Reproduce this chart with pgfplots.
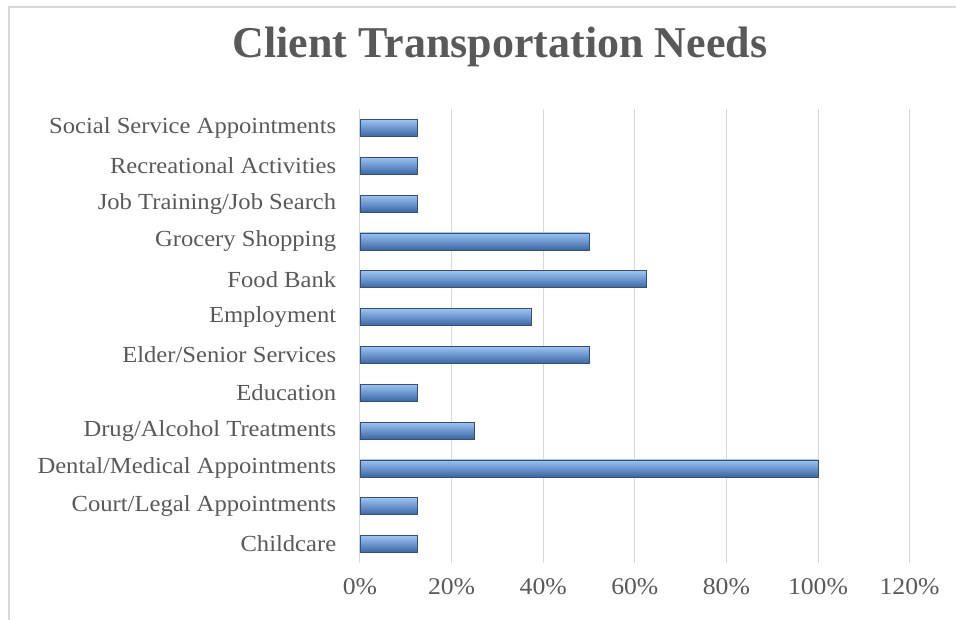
\documentclass[border=0pt]{standalone}
\usepackage{fontspec}
\setmainfont{Liberation Serif}[FakeStretch=1.07]
\newfontfamily\titlefont{Liberation Serif}
\usepackage{pgfplots}
\pgfplotsset{compat=1.18}
\definecolor{txt}{HTML}{595959}
\definecolor{gridc}{HTML}{D9D9D9}
\definecolor{bartop}{HTML}{9CC4F2}
\definecolor{barmid}{HTML}{5A90DA}
\definecolor{barbot}{HTML}{3A66A6}
\definecolor{baredge}{HTML}{34507A}
\begin{document}
\begin{tikzpicture}[x=1pt,y=1pt]
\useasboundingbox (0,0) rectangle (956,620);
\draw[gridc, line width=1.5pt] (9,0) -- (9,613) -- (956,613);
\node[font=\titlefont\fontsize{44}{52}\selectfont\bfseries, text=txt] at (500,573) {Client Transportation Needs};
\begin{axis}[
  at={(360pt,57pt)}, anchor=south west,
  scale only axis, width=549.6pt, height=454pt,
  xbar, bar width=17pt,
  xmin=0, xmax=120, ymin=-0.5, ymax=11.5,
  xtick={0,20,...,120},
  xticklabel={\pgfmathprintnumber{\tick}\%},
  /pgf/number format/assume math mode=true,
  ytick={0,...,11},
  yticklabels={Childcare, Court/Legal Appointments, Dental/Medical Appointments, Drug/Alcohol Treatments, Education, Elder/Senior Services, Employment, Food Bank, Grocery Shopping, Job Training/Job Search, Recreational Activities, Social Service Appointments},
  axis line style={draw=none},
  tick style={draw=none},
  xmajorgrids, grid style={gridc, line width=1pt},
  yticklabel style={font=\fontsize{23}{26}\selectfont, text=txt, xshift=-16pt},
  xticklabel style={font=\fontsize{24}{27}\selectfont, text=txt, yshift=-12pt},
  mybar/.style={draw=baredge, line width=0.7pt, top color=bartop, middle color=barmid, bottom color=barbot, bar shift=0pt},
]
\addplot[mybar] coordinates {(12.5,0)};
\addplot[mybar] coordinates {(12.5,1)};
\addplot[mybar] coordinates {(100,2)};
\addplot[mybar] coordinates {(25,3)};
\addplot[mybar] coordinates {(12.5,4)};
\addplot[mybar] coordinates {(50,5)};
\addplot[mybar] coordinates {(37.5,6)};
\addplot[mybar] coordinates {(62.5,7)};
\addplot[mybar] coordinates {(50,8)};
\addplot[mybar] coordinates {(12.5,9)};
\addplot[mybar] coordinates {(12.5,10)};
\addplot[mybar] coordinates {(12.5,11)};
\end{axis}
\end{tikzpicture}
\end{document}
